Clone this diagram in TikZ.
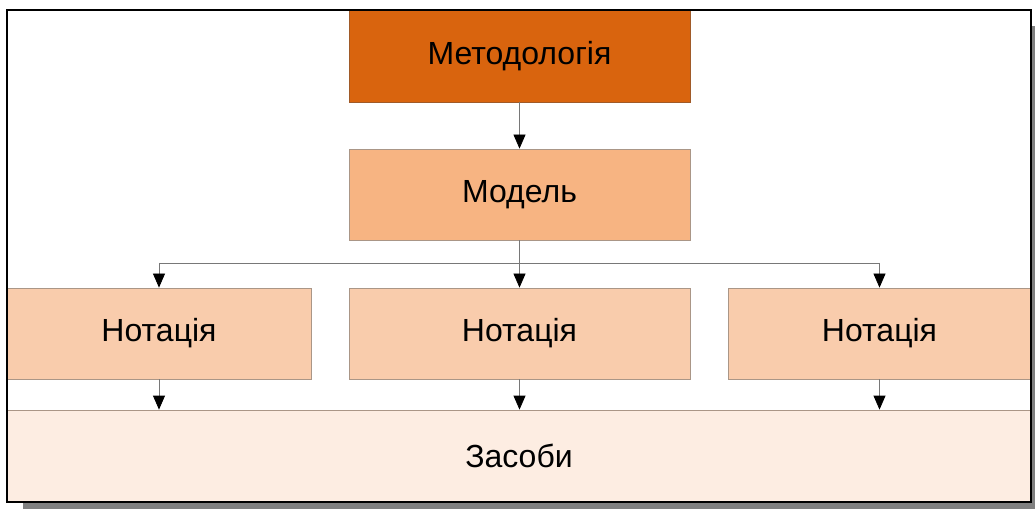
\documentclass[tikz,border=0pt]{standalone}
\usepackage{fontspec}
\setmainfont{Liberation Sans}
\usetikzlibrary{arrows.meta}
\definecolor{cmeth}{RGB}{217,100,14}
\definecolor{cmethb}{RGB}{160,90,40}
\definecolor{cmodel}{RGB}{247,180,130}
\definecolor{cnot}{RGB}{249,204,172}
\definecolor{czas}{RGB}{253,237,226}
\definecolor{cboxb}{RGB}{170,150,135}
\definecolor{cline}{RGB}{120,120,120}
\definecolor{cshadow}{RGB}{128,128,128}
\tikzset{
  x=1pt, y=1pt,
  box/.style={draw=cboxb, line width=0.8pt, inner sep=0pt, minimum height=91pt, font=\fontsize{32}{36}\selectfont},
  conn/.style={draw=cline, line width=0.8pt, -{Triangle[black,width=12pt,length=14pt]}},
  plain/.style={draw=cline, line width=0.8pt},
}
\begin{document}
\begin{tikzpicture}
\useasboundingbox (0,0) rectangle (1035,509);
\fill[white] (0,0) rectangle (1035,509);
% shadow
\fill[cshadow] (23,0) rectangle (1035,7);
\fill[cshadow] (1031,0) rectangle (1035,483);
\fill[white] (7,7) rectangle (1031,499);
% boxes
\node[box, fill=cmeth, draw=cmethb, minimum width=341pt, minimum height=92pt] (meth) at (519.5,453) {Методологія};
\node[box, fill=cmodel, minimum width=341pt] (model) at (519.5,314.5) {Модель};
\node[box, fill=cnot, minimum width=304pt] (n1) at (159,175.5) {Нотація};
\node[box, fill=cnot, minimum width=341pt] (n2) at (519.5,175.5) {Нотація};
\node[box, fill=cnot, minimum width=303pt] (n3) at (879.5,175.5) {Нотація};
\node[box, fill=czas, minimum width=1024pt, minimum height=92pt] (zas) at (519,53) {Засоби};
% connectors
\coordinate (jl) at (159,246);
\coordinate (jr) at (879.5,246);
\draw[conn] (meth.south) -- (model.north);
\draw[conn] (model.south) -- (n2.north);
\draw[plain] (jl) -- (jr);
\draw[conn] (jl) -- (n1.north);
\draw[conn] (jr) -- (n3.north);
\draw[conn] (n1.south) -- (n1.south |- zas.north);
\draw[conn] (n2.south) -- (n2.south |- zas.north);
\draw[conn] (n3.south) -- (n3.south |- zas.north);
% frame
\draw[black, line width=1.2pt] (7,7) rectangle (1031,499);
\end{tikzpicture}
\end{document}
